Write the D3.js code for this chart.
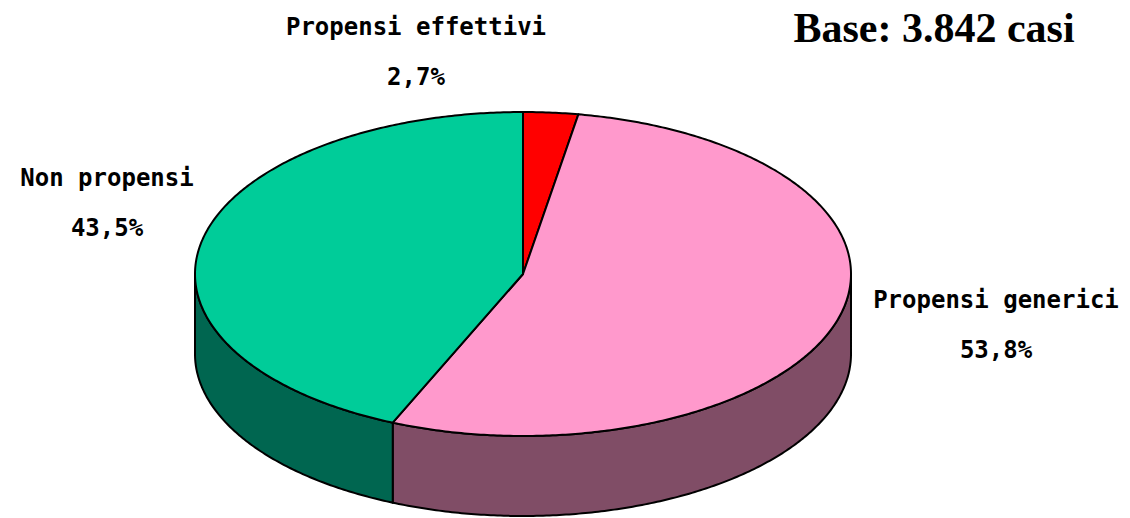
<!DOCTYPE html>
<html>
<head>
<meta charset="utf-8">
<script src="https://d3js.org/d3.v7.min.js"></script>
<style>
  html, body { margin: 0; padding: 0; background: #fff; }
  svg { display: block; }
  .lbl { font-family: "DejaVu Sans Mono", monospace; font-weight: bold; font-size: 24px; fill: #000; }
  .base { font-family: "Liberation Serif", "Times New Roman", serif; font-weight: bold; font-size: 42px; fill: #000; }
</style>
</head>
<body>
<svg width="1130" height="518"></svg>
<script>
// data
var categories = ["Propensi effettivi", "Propensi generici", "Non propensi"];
var values = [2.7, 53.8, 43.5];
var pctLabels = ["2,7%", "53,8%", "43,5%"];
var topColors = ["#ff0000", "#ff99cc", "#00cc99"];
var sideColors = ["#800000", "#804d66", "#006650"];
var baseText = "Base: 3.842 casi";

var svg = d3.select("svg"),
    cx = 523, cy = 274,
    rx = 328, ry = 162,
    depth = 80;

// label placement (layout only)
var labelPos = [
    { x: 416, y: 35 },
    { x: 996, y: 308 },
    { x: 107, y: 186 }
];

var pie = d3.pie().sort(null).value(function(d) { return d; });
var arcs = pie(values);

function pt(a, dy) {
    return [cx + rx * Math.sin(a), cy - ry * Math.cos(a) + (dy || 0)];
}

function arcPoints(a0, a1, dy) {
    var n = Math.max(2, Math.ceil(Math.abs(a1 - a0) / 0.01));
    var pts = [];
    for (var i = 0; i <= n; i++) pts.push(pt(a0 + (a1 - a0) * i / n, dy));
    return pts;
}

var line = d3.line();

// side walls (only the front half shows)
arcs.forEach(function(d, i) {
    var s = Math.max(d.startAngle, Math.PI / 2),
        e = Math.min(d.endAngle, Math.PI * 1.5);
    if (e <= s) return;
    var pts = arcPoints(s, e, 0).concat(arcPoints(e, s, depth));
    svg.append("path")
        .attr("d", line(pts) + "Z")
        .attr("fill", sideColors[i])
        .attr("stroke", "#000")
        .attr("stroke-width", 2)
        .attr("stroke-linejoin", "round");
});

// top faces
arcs.forEach(function(d, i) {
    var pts = [[cx, cy]].concat(arcPoints(d.startAngle, d.endAngle, 0));
    svg.append("path")
        .attr("d", line(pts) + "Z")
        .attr("fill", topColors[i])
        .attr("stroke", "#000")
        .attr("stroke-width", 2)
        .attr("stroke-linejoin", "round");
});

// labels
arcs.forEach(function(d, i) {
    var g = svg.append("g");
    g.append("text").attr("class", "lbl")
        .attr("x", labelPos[i].x).attr("y", labelPos[i].y)
        .attr("text-anchor", "middle")
        .text(categories[i]);
    g.append("text").attr("class", "lbl")
        .attr("x", labelPos[i].x).attr("y", labelPos[i].y + 50)
        .attr("text-anchor", "middle")
        .text(pctLabels[i]);
});

svg.append("text").attr("class", "base")
    .attr("x", 934).attr("y", 42)
    .attr("text-anchor", "middle")
    .text(baseText);
</script>
</body>
</html>
